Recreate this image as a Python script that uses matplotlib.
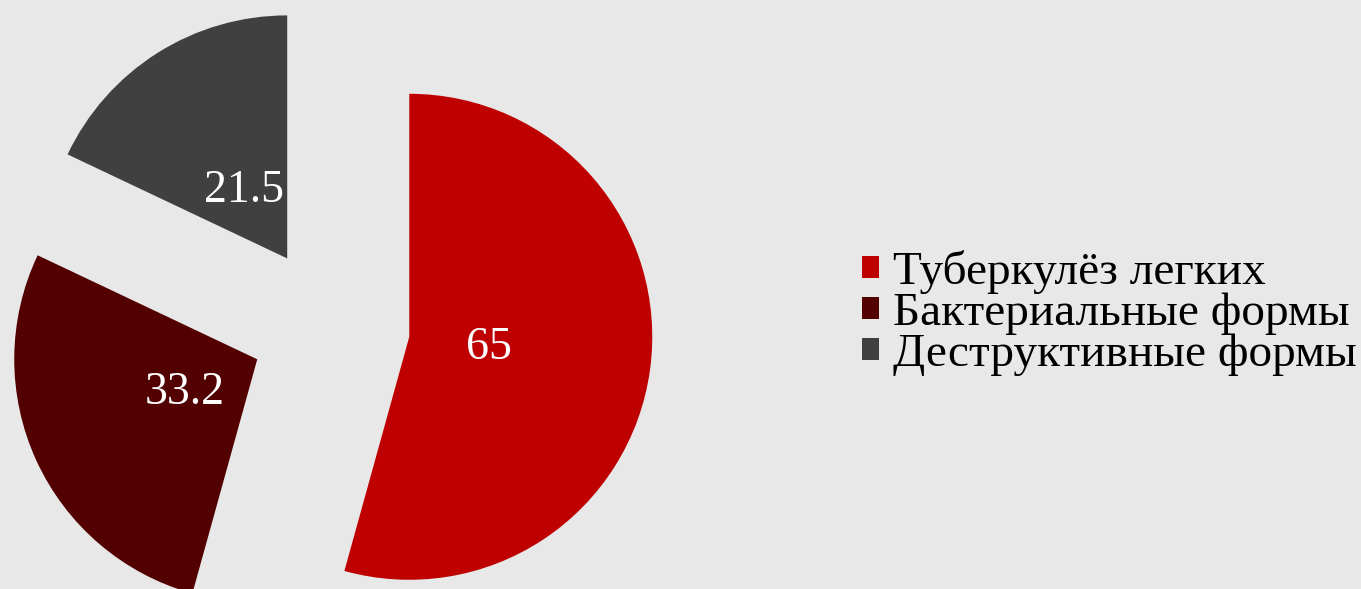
import matplotlib.pyplot as plt
import numpy as np

# ---------------- DATA ----------------
categories = ['Туберкулёз легких', 'Бактериальные формы', 'Деструктивные формы']
values = [65, 33.2, 21.5]
value_labels = ['65', '33.2', '21.5']
colors = ['#bf0000', '#520000', '#404040']

plt.rcParams['font.family'] = ['Liberation Serif', 'DejaVu Serif']

W, H = 1361, 589
fig = plt.figure(figsize=(W / 100, H / 100), dpi=100)
fig.patch.set_facecolor('#e8e8e8')
ax = fig.add_axes([0, 0, 1, 1])
ax.set_facecolor('#e8e8e8')

# explode is in data units here (axes are in pixels)
wedges, texts, autotexts = ax.pie(
    values, colors=colors, startangle=90, counterclock=False,
    explode=[80] * len(values), radius=243, center=(330, 263),
    autopct='%1.1f', pctdistance=0.33, frame=True,
    wedgeprops=dict(linewidth=0),
    textprops=dict(color='white', fontsize=33))
for t, lab in zip(autotexts, value_labels):
    t.set_text(lab)

ax.set_xlim(0, W)
ax.set_ylim(0, H)
ax.set_aspect('equal')
ax.axis('off')

leg = ax.legend(wedges, categories, loc='center left',
                bbox_to_anchor=(862 / W, 1 - 313 / H),
                frameon=False, fontsize=34, handlelength=0.36,
                handleheight=0.36, handletextpad=0.3, labelspacing=-0.03,
                borderpad=0, borderaxespad=0)

fig.savefig('out.png', dpi=100, facecolor=fig.get_facecolor())
